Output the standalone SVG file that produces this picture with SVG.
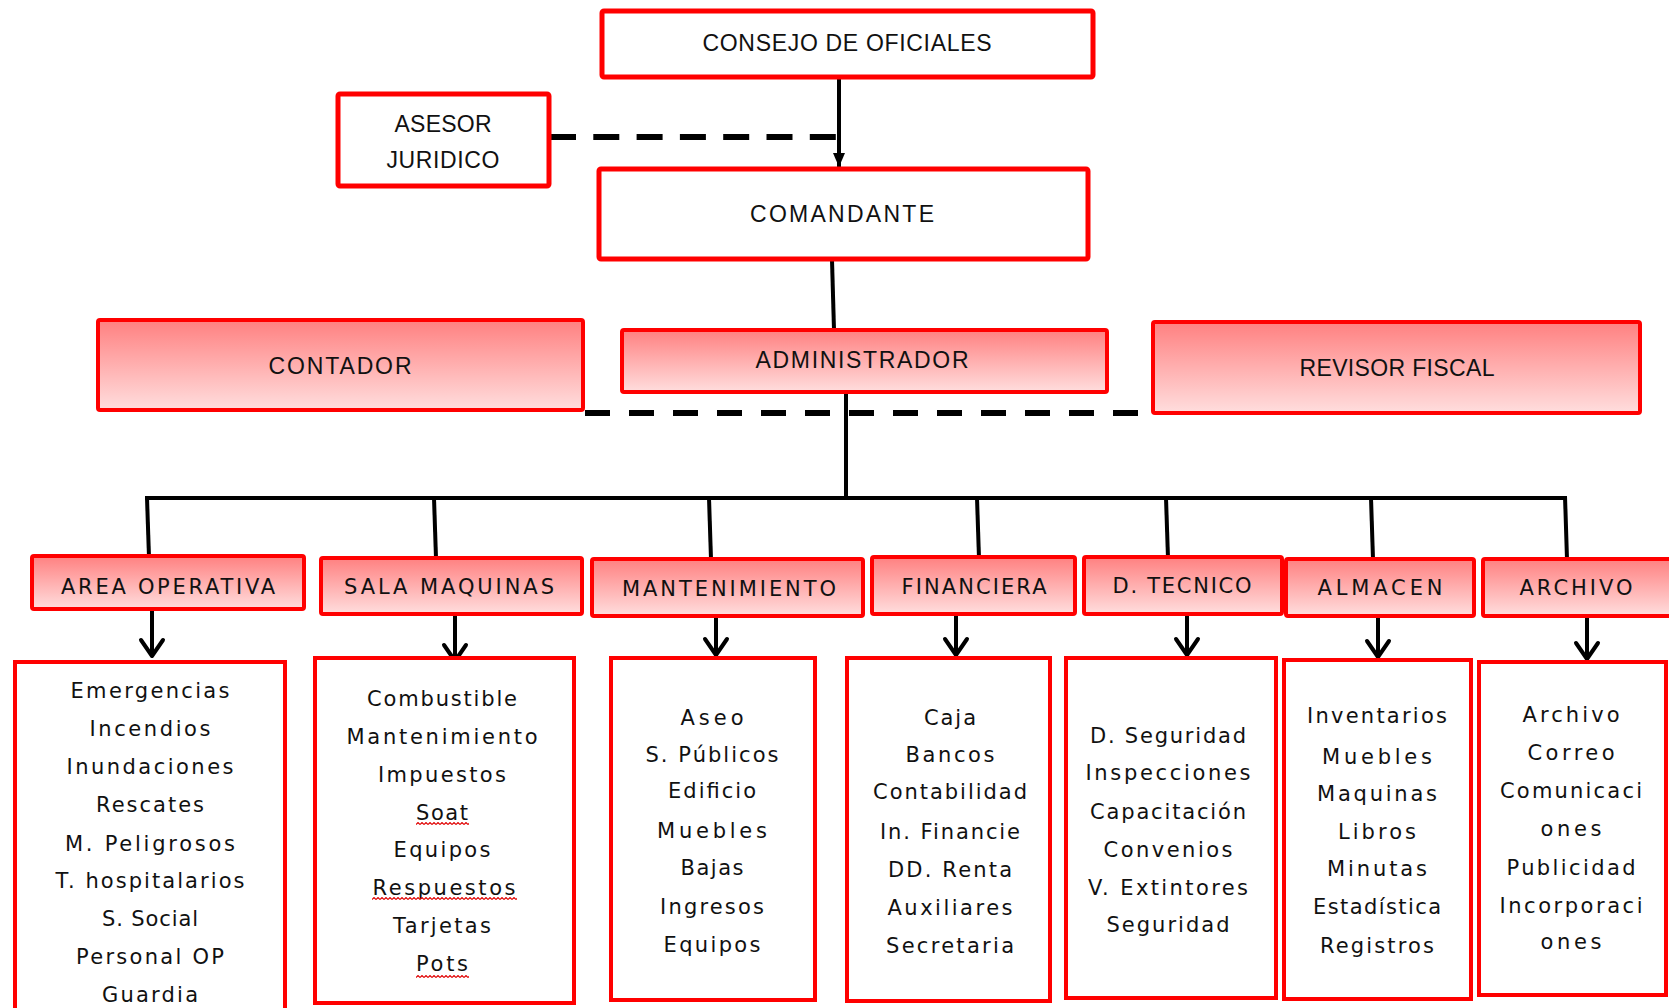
<svg xmlns="http://www.w3.org/2000/svg" width="1669" height="1008" viewBox="0 0 1669 1008">
<style>
  .box{fill:#fff;stroke:#ff0000;stroke-width:5;}
  .fbox{fill:url(#pink);stroke:#ff0000;stroke-width:4;}
  .lbox{fill:#fff;stroke:#ff0000;stroke-width:4;}
  .top{font-family:"Liberation Sans",Arial,sans-serif;font-size:23px;fill:#111;text-anchor:middle;}
  .hd{font-family:"DejaVu Sans",sans-serif;font-size:21px;fill:#111;text-anchor:middle;}
  .li{font-family:"DejaVu Sans",sans-serif;font-size:21px;fill:#111;text-anchor:middle;}
  .ln{stroke:#000;stroke-width:4;fill:none;stroke-linecap:butt;}
  .dash{stroke:#000;stroke-width:6;fill:none;}
  .arr{stroke:#000;stroke-width:4;fill:none;marker-end:url(#chev);}
</style>
<defs>
  <linearGradient id="pink" x1="0" y1="0" x2="0" y2="1">
    <stop offset="0" stop-color="#ff8080"/>
    <stop offset="1" stop-color="#ffdede"/>
  </linearGradient>
  <marker id="tri" markerUnits="userSpaceOnUse" viewBox="0 0 14 12" markerWidth="14" markerHeight="12" refX="14" refY="6" orient="auto">
    <path d="M0,0 L14,6 L0,12 z" fill="#000"/>
  </marker>
  <marker id="chev" markerUnits="userSpaceOnUse" viewBox="-3 -3 22 28" markerWidth="22" markerHeight="28" refX="16" refY="11" orient="auto" overflow="visible">
    <path d="M0,0 L16,11 L0,22" fill="none" stroke="#000" stroke-width="4" stroke-linejoin="round" stroke-linecap="round"/>
  </marker>
  <pattern id="squig" patternUnits="userSpaceOnUse" width="4" height="3">
    <path d="M0,2.5 L2,0.5 L4,2.5" fill="none" stroke="#e00000" stroke-width="1.1"/>
  </pattern>
</defs>

<g id="connectors">
  <line class="ln" x1="839" y1="78" x2="839" y2="167" marker-end="url(#tri)"/>
  <line class="dash" x1="550" y1="137" x2="836" y2="137" stroke-dasharray="26 17.3"/>
  <line class="ln" x1="832" y1="260" x2="834" y2="330"/>
  <line class="dash" x1="585" y1="413" x2="1138" y2="413" stroke-dasharray="25 19"/>
  <line class="ln" x1="846" y1="392" x2="846" y2="498"/>
  <line class="ln" x1="145" y1="498" x2="1567" y2="498"/>
  <line class="ln" x1="147" y1="498" x2="149" y2="557"/>
  <line class="ln" x1="434" y1="498" x2="436" y2="558"/>
  <line class="ln" x1="709" y1="498" x2="711" y2="559"/>
  <line class="ln" x1="977" y1="498" x2="979" y2="558"/>
  <line class="ln" x1="1166" y1="498" x2="1168" y2="558"/>
  <line class="ln" x1="1371" y1="498" x2="1373" y2="559"/>
  <line class="ln" x1="1565" y1="496" x2="1567" y2="559"/>
  <line class="arr" x1="152" y1="610" x2="152" y2="656"/>
  <line class="arr" x1="455" y1="615" x2="455" y2="661"/>
  <line class="arr" x1="716" y1="617" x2="716" y2="655"/>
  <line class="arr" x1="956" y1="615" x2="956" y2="655"/>
  <line class="arr" x1="1187" y1="615" x2="1187" y2="655"/>
  <line class="arr" x1="1378" y1="617" x2="1378" y2="657"/>
  <line class="arr" x1="1587" y1="617" x2="1587" y2="659"/>
</g>

<g id="consejo">
  <rect class="box" x="602" y="11" width="491" height="66" rx="2"/>
  <text class="top" x="847" y="51" textLength="289">CONSEJO DE OFICIALES</text>
</g>
<g id="asesor">
  <rect class="box" x="338" y="94" width="211" height="92" rx="2"/>
  <text class="top" x="443" y="132" textLength="97">ASESOR</text>
  <text class="top" x="443" y="168" textLength="113">JURIDICO</text>
</g>
<g id="comandante">
  <rect class="box" x="599" y="169" width="489" height="90" rx="2"/>
  <text class="top" x="842" y="222" textLength="184">COMANDANTE</text>
</g>
<g id="contador">
  <rect class="fbox" x="98" y="320" width="485" height="90" rx="2"/>
  <text class="top" x="340" y="374" textLength="143">CONTADOR</text>
</g>
<g id="administrador">
  <rect class="fbox" x="622" y="330" width="485" height="62" rx="2"/>
  <text class="top" x="862" y="368" textLength="213">ADMINISTRADOR</text>
</g>
<g id="revisor-fiscal">
  <rect class="fbox" x="1153" y="322" width="487" height="91" rx="2"/>
  <text class="top" x="1397" y="376" textLength="195">REVISOR FISCAL</text>
</g>

<g id="area-operativa">
  <rect class="fbox" x="32" y="556" width="272" height="53" rx="2"/>
  <text class="hd" x="168" y="594" textLength="214">AREA OPERATIVA</text>
</g>
<g id="sala-maquinas">
  <rect class="fbox" x="321" y="558" width="261" height="56" rx="2"/>
  <text class="hd" x="449" y="594" textLength="210">SALA MAQUINAS</text>
</g>
<g id="mantenimiento">
  <rect class="fbox" x="592" y="559" width="271" height="57" rx="2"/>
  <text class="hd" x="729" y="596" textLength="214">MANTENIMIENTO</text>
</g>
<g id="financiera">
  <rect class="fbox" x="872" y="557" width="203" height="57" rx="2"/>
  <text class="hd" x="974" y="594" textLength="145">FINANCIERA</text>
</g>
<g id="d-tecnico">
  <rect class="fbox" x="1084" y="557" width="198" height="57" rx="2"/>
  <text class="hd" x="1182" y="593" textLength="139">D. TECNICO</text>
</g>
<g id="almacen">
  <rect class="fbox" x="1286" y="559" width="188" height="57" rx="2"/>
  <text class="hd" x="1380" y="595" textLength="125">ALMACEN</text>
</g>
<g id="archivo">
  <rect class="fbox" x="1483" y="559" width="200" height="57" rx="2"/>
  <text class="hd" x="1576" y="595" textLength="113">ARCHIVO</text>
</g>

<g id="area-operativa-list">
  <rect class="lbox" x="15" y="662" width="270" height="360"/>
  <text class="li" x="150" y="698" textLength="159">Emergencias</text>
  <text class="li" x="150" y="736" textLength="121">Incendios</text>
  <text class="li" x="150" y="774" textLength="167">Inundaciones</text>
  <text class="li" x="150" y="812" textLength="108">Rescates</text>
  <text class="li" x="150" y="851" textLength="170">M. Peligrosos</text>
  <text class="li" x="150" y="888" textLength="189">T. hospitalarios</text>
  <text class="li" x="150" y="926" textLength="96">S. Social</text>
  <text class="li" x="150" y="964" textLength="148">Personal OP</text>
  <text class="li" x="150" y="1002" textLength="96">Guardia</text>
</g>
<g id="sala-maquinas-list">
  <rect class="lbox" x="315" y="658" width="259" height="345"/>
  <text class="li" x="442" y="706" textLength="150">Combustible</text>
  <text class="li" x="442" y="744" textLength="191">Mantenimiento</text>
  <text class="li" x="442" y="782" textLength="128">Impuestos</text>
  <text class="li" x="442" y="820" textLength="52">Soat</text>
  <text class="li" x="442" y="857" textLength="97">Equipos</text>
  <text class="li" x="444" y="895" textLength="143">Respuestos</text>
  <text class="li" x="442" y="933" textLength="98">Tarjetas</text>
  <text class="li" x="442" y="971" textLength="52">Pots</text>
  <rect x="416" y="822" width="53" height="3" fill="url(#squig)"/>
  <rect x="372" y="897" width="145" height="3" fill="url(#squig)"/>
  <rect x="416" y="975" width="53" height="3" fill="url(#squig)"/>
</g>
<g id="mantenimiento-list">
  <rect class="lbox" x="611" y="658" width="204" height="342"/>
  <text class="li" x="712" y="725" textLength="63">Aseo</text>
  <text class="li" x="712" y="762" textLength="133">S. Públicos</text>
  <text class="li" x="712" y="798" textLength="88">Edificio</text>
  <text class="li" x="712" y="838" textLength="110">Muebles</text>
  <text class="li" x="712" y="875" textLength="63">Bajas</text>
  <text class="li" x="712" y="914" textLength="104">Ingresos</text>
  <text class="li" x="712" y="952" textLength="97">Equipos</text>
</g>
<g id="financiera-list">
  <rect class="lbox" x="847" y="658" width="203" height="343"/>
  <text class="li" x="950" y="725" textLength="52">Caja</text>
  <text class="li" x="950" y="762" textLength="89">Bancos</text>
  <text class="li" x="950" y="799" textLength="154">Contabilidad</text>
  <text class="li" x="950" y="839" textLength="140">In. Financie</text>
  <text class="li" x="950" y="877" textLength="124">DD. Renta</text>
  <text class="li" x="950" y="915" textLength="125">Auxiliares</text>
  <text class="li" x="950" y="953" textLength="128">Secretaria</text>
</g>
<g id="d-tecnico-list">
  <rect class="lbox" x="1066" y="658" width="210" height="340"/>
  <text class="li" x="1168" y="743" textLength="156">D. Seguridad</text>
  <text class="li" x="1168" y="780" textLength="165">Inspecciones</text>
  <text class="li" x="1168" y="819" textLength="156">Capacitación</text>
  <text class="li" x="1168" y="857" textLength="129">Convenios</text>
  <text class="li" x="1168" y="895" textLength="160">V. Extintores</text>
  <text class="li" x="1168" y="932" textLength="123">Seguridad</text>
</g>
<g id="almacen-list">
  <rect class="lbox" x="1284" y="660" width="187" height="339"/>
  <text class="li" x="1377" y="723" textLength="140">Inventarios</text>
  <text class="li" x="1377" y="764" textLength="110">Muebles</text>
  <text class="li" x="1377" y="801" textLength="120">Maquinas</text>
  <text class="li" x="1377" y="839" textLength="78">Libros</text>
  <text class="li" x="1377" y="876" textLength="100">Minutas</text>
  <text class="li" x="1377" y="914" textLength="128">Estadística</text>
  <text class="li" x="1377" y="953" textLength="114">Registros</text>
</g>
<g id="archivo-list">
  <rect class="lbox" x="1479" y="662" width="187" height="333"/>
  <text class="li" x="1571" y="722" textLength="97">Archivo</text>
  <text class="li" x="1571" y="760" textLength="87">Correo</text>
  <text class="li" x="1571" y="798" textLength="142">Comunicaci</text>
  <text class="li" x="1571" y="836" textLength="61">ones</text>
  <text class="li" x="1571" y="875" textLength="129">Publicidad</text>
  <text class="li" x="1571" y="913" textLength="143">Incorporaci</text>
  <text class="li" x="1571" y="949" textLength="61">ones</text>
</g>
</svg>
